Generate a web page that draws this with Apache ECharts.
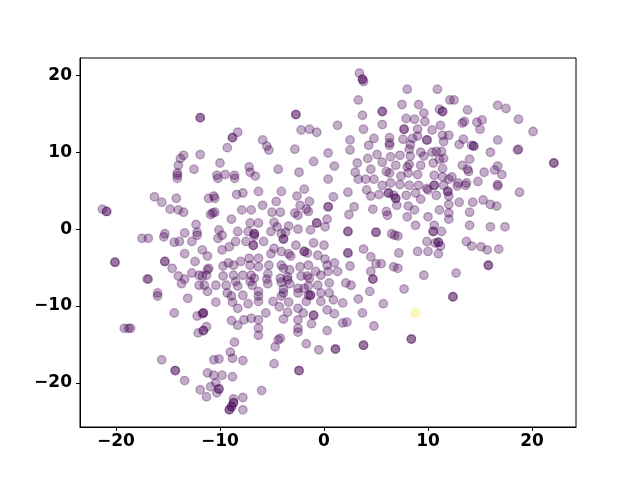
<!DOCTYPE html>
<html>
<head>
<meta charset="utf-8">
<script src="https://cdn.jsdelivr.net/npm/echarts@6/dist/echarts.min.js"></script>
<style>
  html, body { margin: 0; padding: 0; background: #fff; }
  #chart { width: 640px; height: 480px; }
</style>
</head>
<body>
<div id="chart"></div>
<script>
// tick labels
const xTicks = [-20, -10, 0, 10, 20];
const yTicks = [-20, -10, 0, 10, 20];
// axis limits
const xLimits = [-23.46, 24.23];
const yLimits = [-25.74, 22.26];

// class 0 points (purple); darker spots are overlapping pairs, so listed twice
const purplePoints = [
  // upper left
  [-11.9, 14.5], [-11.9, 14.5], [-11.9, 9.7], [-13.5, 9.6], [-13.8, 9.2], [-14.0, 8.3],
  [-12.5, 7.8], [-14.1, 7.3], [-14.1, 7.0],
  [-2.7, 14.9], [-2.7, 14.9], [-2.2, 12.9], [-1.4, 13.0], [-0.7, 12.6],
  [-8.8, 11.9], [-8.8, 11.9], [-8.3, 12.6], [-9.3, 10.6], [-5.9, 11.6], [-5.5, 10.8],
  [-5.3, 10.3], [-2.8, 10.4], [0.4, 9.9], [-1.0, 8.8], [-10.0, 8.6], [-10.3, 7.0],
  [-9.5, 7.1], [-8.6, 7.0], [-7.2, 8.1], [-7.1, 7.4], [-6.6, 6.9], [-4.4, 7.8],
  [-2.4, 7.4], [0.4, 6.5],
  // upper middle
  [3.4, 20.3], [3.7, 19.5], [3.7, 19.5], [3.8, 19.2], [8.0, 18.2], [10.9, 18.2],
  [3.3, 16.8], [5.6, 15.3], [5.6, 15.3], [7.5, 16.2], [9.1, 16.2], [11.1, 15.6],
  [11.4, 15.3], [11.4, 15.3], [12.1, 16.8], [3.7, 14.8], [9.6, 15.1],
  [1.3, 13.5], [3.8, 13.0], [5.6, 13.6], [7.9, 14.4], [8.7, 14.3], [9.7, 14.0],
  [7.7, 13.0], [7.7, 13.0], [9.0, 13.0], [10.4, 12.9], [11.2, 13.5], [11.4, 12.2], [12.0, 12.2],
  [2.5, 11.6], [4.8, 11.8], [6.3, 11.9], [7.6, 11.7], [8.5, 11.8], [9.0, 12.1],
  [9.9, 11.6], [9.9, 11.6],
  [2.5, 10.3], [4.3, 10.9], [6.3, 10.9], [6.3, 11.2], [8.3, 11.0], [8.2, 10.4],
  [9.3, 10.0], [10.4, 10.0], [10.8, 10.1], [11.3, 10.1], [11.5, 9.2],
  [1.0, 8.2], [3.2, 8.6], [4.2, 9.2], [5.1, 9.7], [6.4, 9.4], [7.3, 9.6], [8.3, 9.5],
  [8.2, 8.4], [9.6, 9.5], [11.1, 9.1], [5.6, 8.7], [4.5, 7.8], [3.0, 7.4], [6.0, 7.5],
  [6.9, 8.3], [8.0, 8.1], [8.1, 7.3], [9.3, 8.3], [10.5, 8.6],
  [3.3, 6.5], [4.0, 6.5], [4.8, 6.5], [6.3, 7.3], [7.4, 6.9], [9.0, 7.1], [10.6, 7.0],
  [11.4, 6.8], [12.0, 6.5],
  // upper right
  [12.5, 16.8], [16.7, 16.1], [17.5, 15.7], [13.8, 15.5], [18.7, 14.3],
  [13.5, 14.0], [13.3, 13.8], [14.7, 13.9], [15.2, 14.2], [15.0, 13.0], [20.1, 12.7],
  [11.5, 11.4], [13.4, 11.7], [13.0, 11.0], [14.2, 10.9], [14.4, 10.8], [14.4, 10.8],
  [16.7, 11.6], [18.7, 10.4], [18.6, 10.3], [16.0, 10.0], [14.0, 9.1], [13.3, 8.3],
  [13.8, 7.8], [13.9, 7.5], [16.7, 8.2], [16.4, 7.7], [17.1, 7.1], [15.4, 7.4],
  [11.4, 7.9], [12.3, 6.8], [14.8, 6.2], [12.9, 6.0], [13.7, 6.0], [16.7, 5.8],
  [22.1, 8.6], [22.1, 8.6],
  // middle left
  [-21.3, 2.6], [-20.9, 2.3], [-20.9, 2.3],
  [-16.3, 4.2], [-15.6, 3.5], [-14.2, 4.0], [-14.8, 2.6], [-14.0, 2.5], [-13.5, 2.2],
  [-14.1, 6.6], [-11.1, 4.0], [-10.9, 1.9], [-12.3, 0.6],
  [-17.5, -1.2], [-16.9, -1.2], [-15.3, -0.6], [-15.4, -1.0], [-14.4, -1.7], [-13.9, -1.6],
  [-13.4, -0.5], [-12.7, -1.6], [-12.2, -0.4], [-12.2, -0.8],
  [-20.1, -4.3], [-20.1, -4.3], [-15.3, -4.2], [-15.3, -4.2],
  [-13.4, -3.2], [-12.4, -4.2], [-11.7, -2.7], [-11.2, -3.5],
  [-14.6, -5.1], [-14.0, -6.1], [-13.4, -6.5], [-13.7, -7.1], [-12.7, -5.7], [-12.0, -6.0],
  [-11.7, -6.1], [-11.3, -6.0], [-11.1, -5.1], [-17.0, -6.5], [-16.9, -6.5],
  [-12.0, -7.3], [-11.2, -8.1], [-16.0, -8.3], [-16.0, -8.7], [-13.1, -9.0],
  // centre
  [-10.2, 6.6], [-8.6, 6.6], [-10.6, 4.3], [-10.5, 4.0], [-8.4, 4.5], [-7.8, 4.7],
  [-6.3, 4.9], [-4.1, 4.9], [-2.6, 4.3], [-1.9, 5.2], [-1.4, 3.6], [0.4, 2.9], [0.4, 2.9],
  [-5.9, 3.1], [-4.6, 3.6], [-2.3, 3.1], [-1.7, 2.6], [-1.5, 2.3],
  [-10.7, 2.1], [-10.5, 2.2], [-7.9, 2.5], [-7.0, 2.5], [-5.0, 2.2], [-4.2, 2.2],
  [-2.8, 2.1], [-2.5, 1.8], [-8.9, 1.3], [-7.1, 0.8], [-6.3, 0.8], [-4.8, 0.9],
  [-4.5, 0.3], [-3.4, 0.4], [-0.7, 0.8], [-0.7, 0.8],
  [-10.1, -0.1], [-9.8, -0.8], [-8.3, -0.3], [-7.3, -0.3], [-6.7, -0.6], [-6.7, -0.6],
  [-6.7, -0.9], [-5.1, -0.3], [-4.1, -0.6], [-3.9, -1.3], [-3.9, -1.3], [-3.7, -0.4],
  [-2.5, 0.0], [-1.3, -0.1], [0.1, 0.3],
  [-10.2, -1.2], [-8.5, -1.6], [-7.5, -1.6], [-6.8, -2.1], [-6.8, -2.1], [-5.8, -1.6],
  [-4.8, -2.5], [-2.7, -2.1], [-1.0, -1.8], [0.0, -2.1],
  [-9.8, -2.7], [-9.1, -2.3], [-9.2, -4.4], [-8.0, -4.2], [-7.2, -3.8], [-6.3, -3.8],
  [-5.1, -3.2], [-4.1, -2.9], [-3.4, -3.2], [-3.2, -3.5], [-1.9, -2.9], [-1.9, -2.9],
  [-1.6, -3.1], [-0.6, -3.4],
  [-11.2, -5.3], [-9.7, -4.8], [-8.7, -4.7], [-7.1, -4.7], [-6.3, -4.9], [-5.3, -4.7],
  [-4.1, -4.7], [-3.9, -5.1], [-3.3, -5.3], [-2.3, -4.9], [-1.5, -4.7], [-0.8, -5.5], [0.3, -4.7],
  [-9.7, -6.1], [-8.7, -6.0], [-7.8, -6.0], [-7.0, -6.0], [-6.7, -6.4], [-5.4, -5.8],
  [-4.2, -6.4], [-3.5, -6.2], [-3.5, -6.6], [-2.2, -6.1], [-1.6, -6.1], [-1.4, -6.4], [-0.3, -6.0],
  [-11.5, -7.3], [-10.4, -7.3], [-9.4, -7.3], [-8.5, -6.8], [-8.3, -7.4], [-7.1, -6.8],
  [-6.9, -7.3], [-5.5, -6.5], [-5.4, -7.1], [-4.1, -6.9], [-3.3, -7.1], [-2.5, -7.7],
  [-1.9, -7.7], [-1.5, -7.4], [-0.6, -7.3], [0.5, -7.0],
  [-9.3, -8.3], [-8.9, -8.7], [-7.8, -8.6], [-6.3, -8.1], [-6.3, -8.7], [-3.9, -7.8],
  [-3.9, -8.3], [-4.1, -8.7], [-2.5, -8.3], [-1.5, -8.6], [-1.3, -8.6], [-1.3, -8.6],
  [-0.3, -8.3], [0.5, -8.3],
  [-10.4, -9.5], [-8.8, -9.5], [-7.3, -9.7], [-6.3, -9.4], [-4.9, -9.4], [-3.4, -9.5],
  [-1.7, -9.4], [-0.3, -9.4],
  // middle right
  [5.6, 5.7], [6.4, 6.0], [7.3, 5.8], [8.2, 5.7], [9.1, 5.7], [9.9, 5.3], [10.6, 5.7], [10.6, 5.7],
  [11.9, 4.9], [11.9, 4.9], [12.0, 4.3], [11.5, 5.7],
  [0.9, 4.2], [2.3, 4.8], [4.1, 5.1], [4.5, 4.3], [5.3, 4.5], [6.2, 4.7], [6.2, 4.7],
  [6.7, 4.4], [6.9, 4.0], [6.9, 4.0], [7.9, 4.4], [8.8, 4.7], [9.3, 3.9], [10.0, 5.1], [10.8, 4.4],
  [2.9, 2.9], [2.4, 1.9], [4.7, 2.6], [6.0, 2.3], [6.1, 1.8], [7.0, 3.1], [8.1, 3.0],
  [8.7, 2.5], [10.0, 1.6], [11.1, 2.5], [12.0, 2.1], [0.3, 1.3], [8.0, 1.6], [8.8, 0.5],
  [10.6, 0.5], [10.5, -0.3], [10.5, -0.3], [11.3, -0.3], [2.3, -0.3], [2.3, -0.3],
  [5.0, -0.4], [5.0, -0.4], [6.5, -0.6], [6.8, -0.8], [7.1, -0.9],
  [9.9, -1.6], [10.7, -1.8], [11.0, -1.7], [11.0, -1.7], [11.2, -2.2],
  [3.8, -2.6], [2.3, -3.1], [2.3, -3.1], [4.5, -3.6], [5.0, -4.5], [5.5, -4.5], [7.2, -3.1],
  [9.0, -2.9], [10.0, -2.9], [11.0, -3.2],
  [0.1, -3.9], [1.0, -4.4], [1.3, -5.5], [0.4, -5.5], [2.5, -4.8], [4.5, -5.5], [6.7, -4.9],
  [7.1, -5.1], [9.6, -6.0], [4.7, -6.5], [4.7, -6.5],
  [2.1, -7.0], [2.6, -7.3], [4.4, -8.1], [7.7, -7.8], [0.9, -9.2], [1.8, -9.6],
  [3.3, -9.1], [5.7, -9.7],
  [12.8, 5.6], [13.6, 5.7], [16.7, 5.6], [18.8, 4.8], [12.0, 3.2], [13.0, 3.5], [14.3, 3.5],
  [15.3, 3.8], [16.0, 3.2], [16.6, 3.0], [14.0, 2.2], [12.0, 1.3], [14.0, 0.5], [16.0, 0.3],
  [17.4, 0.3], [13.7, -1.6], [14.2, -2.2], [15.1, -2.3], [15.7, -2.7], [16.8, -2.6],
  [15.8, -4.7], [15.8, -4.7], [12.7, -5.7], [12.4, -8.8], [12.4, -8.8],
  // lower left
  [-14.4, -10.9], [-12.2, -11.3], [-11.7, -11.0], [-11.6, -10.9], [-11.6, -10.9],
  [-19.2, -12.9], [-18.8, -12.9], [-18.6, -12.9], [-12.1, -13.5], [-11.6, -13.2], [-11.6, -13.2],
  [-11.3, -12.7], [-15.6, -17.0], [-14.3, -18.4], [-14.3, -18.4], [-13.4, -19.7],
  [-11.2, -18.7], [-11.9, -20.9], [-10.9, -20.5], [-11.3, -21.8],
  // lower middle
  [-8.3, -10.3], [-4.3, -10.1], [-2.5, -10.3], [-2.0, -10.9], [-3.5, -10.8],
  [-1.0, -11.2], [-1.0, -11.2], [0.3, -10.5], [-8.9, -11.9], [-8.3, -12.5], [-7.7, -11.8],
  [-7.0, -11.6], [-6.3, -11.8], [-6.3, -12.9], [-6.3, -13.8], [-5.6, -10.9], [-3.9, -11.7],
  [-2.5, -11.8], [-2.5, -12.9], [-2.5, -13.4], [-1.2, -12.3], [0.3, -13.2],
  [-8.6, -14.7], [-4.4, -14.4], [-4.2, -14.2], [-4.7, -15.3], [-1.7, -14.9], [-0.5, -15.7],
  [-9.0, -16.0], [-8.8, -16.8], [-7.8, -17.1], [-10.6, -17.0], [-10.1, -16.9], [-4.8, -17.5],
  [-2.4, -18.4], [-2.4, -18.4], [-10.6, -19.0], [-9.8, -19.0], [-8.8, -19.2], [-10.4, -20.0],
  [-10.1, -20.8], [-10.1, -20.8], [-10.3, -21.3], [-8.7, -22.1], [-7.8, -21.9],
  [-8.7, -22.6], [-8.7, -22.6], [-8.9, -23.1], [-8.9, -23.1], [-9.1, -23.5], [-9.1, -23.5],
  [-7.8, -23.5], [-6.0, -21.0],
  // lower right
  [1.0, -11.0], [3.7, -10.9], [1.8, -12.2], [2.2, -12.1], [4.8, -12.6],
  [8.4, -14.3], [8.4, -14.3], [1.1, -15.6], [1.1, -15.6], [3.8, -15.1], [3.8, -15.1]
];

// class 1 point (yellow)
const yellowPoints = [[8.8, -10.9]];

const fmt = v => String(v).replace('-', '\u2212');

const labelStyle = {
  color: '#000',
  fontSize: 17,
  fontWeight: 'bold',
  fontFamily: 'DejaVu Sans'
};

let chart = echarts.init(document.getElementById('chart'), null, { renderer: 'canvas' });
let option = {
  animation: false,
  backgroundColor: '#fff',
  grid: {
    left: 80,
    right: 64,
    top: 58,
    bottom: 53,
    show: true,
    borderColor: '#000',
    borderWidth: 1
  },
  xAxis: {
    type: 'value',
    min: xLimits[0],
    max: xLimits[1],
    splitLine: { show: false },
    axisLine: { onZero: false, lineStyle: { color: '#000', width: 1 } },
    axisTick: { customValues: xTicks, length: 4, lineStyle: { color: '#000' } },
    axisLabel: Object.assign({ customValues: xTicks, formatter: fmt, margin: 6 }, labelStyle)
  },
  yAxis: {
    type: 'value',
    min: yLimits[0],
    max: yLimits[1],
    splitLine: { show: false },
    axisLine: { onZero: false, lineStyle: { color: '#000', width: 1 } },
    axisTick: { customValues: yTicks, length: 4, lineStyle: { color: '#000' } },
    axisLabel: Object.assign({ customValues: yTicks, formatter: fmt, margin: 8 }, labelStyle)
  },
  series: [
    {
      type: 'scatter',
      data: purplePoints,
      symbol: 'circle',
      symbolSize: 8.5,
      itemStyle: {
        color: 'rgba(68, 1, 84, 0.4)',
        borderColor: 'rgba(68, 1, 84, 0.4)',
        borderWidth: 1.3
      }
    },
    {
      type: 'scatter',
      data: yellowPoints,
      symbol: 'circle',
      symbolSize: 8.5,
      itemStyle: {
        color: 'rgba(253, 231, 37, 0.4)',
        borderColor: 'rgba(253, 231, 37, 0.4)',
        borderWidth: 1.3
      }
    }
  ]
};
chart.setOption(option);
</script>
</body>
</html>
